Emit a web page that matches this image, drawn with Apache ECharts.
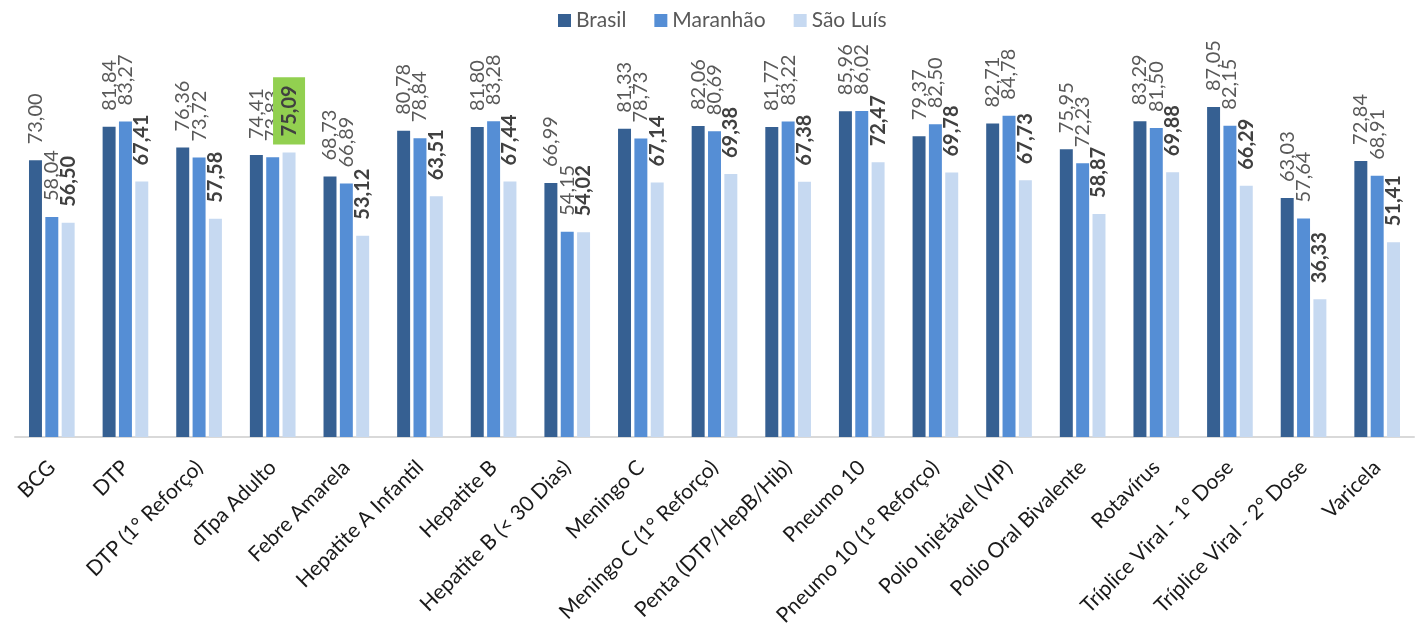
<!DOCTYPE html>
<html>
<head>
<meta charset="utf-8">
<script src="https://cdn.jsdelivr.net/npm/echarts@6/dist/echarts.min.js"></script>
<style>
  html, body { margin: 0; padding: 0; background: #fff; }
  #chart { width: 1426px; height: 633px; }
</style>
</head>
<body>
<div id="chart"></div>
<script>
  // categorias (vacinas)
  var categorias = ['BCG', 'DTP', 'DTP (1° Reforço)', 'dTpa Adulto', 'Febre Amarela', 'Hepatite A Infantil',
    'Hepatite B', 'Hepatite B (< 30 Dias)', 'Meningo C', 'Meningo C (1° Reforço)', 'Penta (DTP/HepB/Hib)',
    'Pneumo 10', 'Pneumo 10 (1° Reforço)', 'Polio Injetável (VIP)', 'Polio Oral Bivalente', 'Rotavírus',
    'Tríplice Viral - 1° Dose', 'Tríplice Viral - 2° Dose', 'Varicela'];
  var brasil = [73.00, 81.84, 76.36, 74.41, 68.73, 80.78, 81.80, 66.99, 81.33, 82.06, 81.77, 85.96, 79.37, 82.71, 75.95, 83.29, 87.05, 63.03, 72.84];
  var maranhao = [58.04, 83.27, 73.72, 73.83, 66.89, 78.84, 83.28, 54.15, 78.73, 80.69, 83.22, 86.02, 82.50, 84.78, 72.23, 81.50, 82.15, 57.64, 68.91];
  var saoLuis = [56.50, 67.41, 57.58, 75.09, 53.12, 63.51, 67.44, 54.02, 67.14, 69.38, 67.38, 72.47, 69.78, 67.73, 58.87, 69.88, 66.29, 36.33, 51.41];
  // rótulo destacado em verde (dTpa Adulto - São Luís)
  var destaque = 3;

  var fonte = 'Lato, "Liberation Sans", sans-serif';

  function fmt(p) {
    return p.value.toFixed(2).replace('.', ',');
  }

  function rotulo(negrito) {
    return {
      show: true,
      position: 'top',
      rotate: 90,
      align: 'left',
      verticalAlign: 'middle',
      distance: 16,
      fontFamily: fonte,
      fontSize: 20,
      fontWeight: negrito ? 'bold' : 'normal',
      color: negrito ? '#404040' : '#595959',
      formatter: fmt
    };
  }

  var dadosSL = saoLuis.map(function (v, i) {
    if (i !== destaque) return v;
    return {
      value: v,
      label: {
        backgroundColor: '#92D050',
        padding: [6, 8, 6, 8],
        distance: 8
      }
    };
  });

  var chart = echarts.init(document.getElementById('chart'));
  var option = {
    animation: false,
    color: ['#366092', '#558ED5', '#C6D9F1'],
    legend: {
      top: 5,
      left: 553,
      itemWidth: 13,
      itemHeight: 13,
      itemGap: 28,
      icon: 'rect',
      textStyle: { fontFamily: fonte, fontSize: 21, color: '#595959' },
      data: ['Brasil', 'Maranhão', 'São Luís']
    },
    grid: { left: 15, right: 12, top: 58, bottom: 196 },
    xAxis: {
      type: 'category',
      data: categorias,
      axisTick: { show: false },
      axisLine: { lineStyle: { color: '#D9D9D9', width: 2 } },
      axisLabel: {
        rotate: 45,
        interval: 0,
        margin: 27,
        fontFamily: fonte,
        fontSize: 21,
        color: '#1a1a1a'
      }
    },
    yAxis: {
      type: 'value',
      min: 0,
      max: 100,
      show: false,
      splitLine: { show: false }
    },
    series: [
      { name: 'Brasil', type: 'bar', data: brasil, barGap: '26%', barCategoryGap: '38%', label: rotulo(false) },
      { name: 'Maranhão', type: 'bar', data: maranhao, barGap: '26%', barCategoryGap: '38%', label: rotulo(false) },
      { name: 'São Luís', type: 'bar', data: dadosSL, barGap: '26%', barCategoryGap: '38%', label: rotulo(true) }
    ]
  };
  chart.setOption(option);
</script>
</body>
</html>
